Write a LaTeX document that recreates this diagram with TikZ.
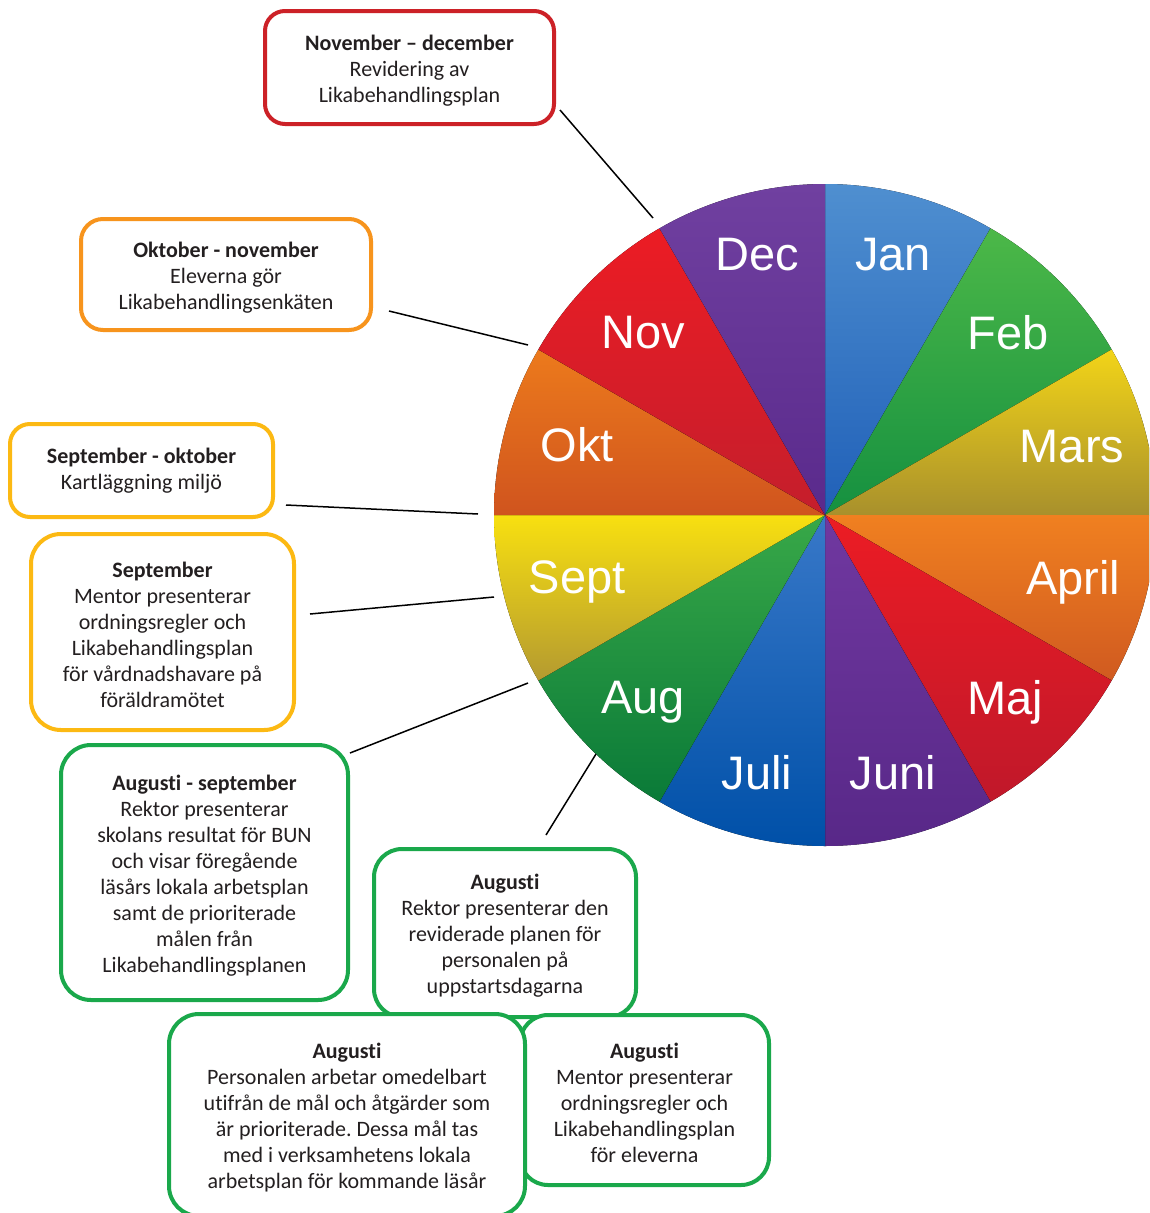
\documentclass[tikz,border=0pt]{standalone}
\usepackage{fontspec}
\setmainfont[Ligatures={NoCommon,TeX}]{Carlito}
\newfontfamily\monthfont{Liberation Sans}
\frenchspacing
\newcommand{\topfix}{\rule{0pt}{21pt}}
\definecolor{bred}{RGB}{204,33,39}
\definecolor{borange}{RGB}{247,148,29}
\definecolor{byellow}{RGB}{252,185,19}
\definecolor{bgreen}{RGB}{26,168,75}
\definecolor{txt}{RGB}{35,31,32}
\definecolor{janT}{HTML}{4F8FD0}\definecolor{janB}{HTML}{2060B8}
\definecolor{febT}{HTML}{4CB848}\definecolor{febB}{HTML}{159040}
\definecolor{marT}{HTML}{F2D418}\definecolor{marB}{HTML}{A8902C}
\definecolor{aprT}{HTML}{F08020}\definecolor{aprB}{HTML}{D05A20}
\definecolor{majT}{HTML}{EC1C24}\definecolor{majB}{HTML}{C0182A}
\definecolor{junT}{HTML}{7038A0}\definecolor{junB}{HTML}{582888}
\definecolor{julT}{HTML}{3878C8}\definecolor{julB}{HTML}{0050A8}
\definecolor{augT}{HTML}{38A848}\definecolor{augB}{HTML}{0A7A38}
\definecolor{sepT}{HTML}{F8E010}\definecolor{sepB}{HTML}{B49A30}
\definecolor{oktT}{HTML}{EC7A1C}\definecolor{oktB}{HTML}{D0541E}
\definecolor{novT}{HTML}{EC1C24}\definecolor{novB}{HTML}{C41E2C}
\definecolor{decT}{HTML}{7040A0}\definecolor{decB}{HTML}{5A2A8C}
\begin{document}
\begin{tikzpicture}[x=1pt,y=-1pt,
  infobox/.style={draw, line width=4pt, fill=white, align=center, inner sep=0pt,
    text=txt, font=\fontsize{22}{26}\selectfont},
  monthlbl/.style={text=white, font=\monthfont\fontsize{47}{50}\selectfont, inner sep=0pt},
  conn/.style={draw=black, line width=1.5pt}]
\useasboundingbox (0,0) rectangle (1149,1213);
\clip (0,0) rectangle (1149,1213);
\fill[white] (0,0) rectangle (1149,1213);
% wheel
\coordinate (pie) at (825,515);
\foreach \i/\ct/\cb in {0/janT/janB,1/febT/febB,2/marT/marB,3/aprT/aprB,4/majT/majB,5/junT/junB,
  6/julT/julB,7/augT/augB,8/sepT/sepB,9/oktT/oktB,10/novT/novB,11/decT/decB}
{
  \fill[top color=\ct, bottom color=\cb] (pie) -- ++({30*\i-90}:331)
    arc[start angle={30*\i-90}, delta angle=30, radius=331] -- cycle;
}
\foreach \lab/\lx/\ly in {Jan/893/255,Feb/1008/333,Mars/1072/447,April/1073/582,Maj/1005/702,
  Juni/893/773,Juli/757/773,Aug/643/702,Sept/577/582,Okt/577/445,Nov/643/333,Dec/757/255}
{
  \node[monthlbl] (m\lab) at (\lx,\ly) {\lab};
}
% boxes
\node[infobox, draw=bred, minimum width=289, minimum height=113, rounded corners=20] (b1) at (409.5,67.5)
  {\topfix\textbf{November – december}\\Revidering av\\Likabehandlingsplan};
\node[infobox, draw=borange, minimum width=290, minimum height=111, rounded corners=22] (b2) at (226,274.5)
  {\topfix\textbf{Oktober - november}\\Eleverna gör\\Likabehandlingsenkäten};
\node[infobox, draw=byellow, minimum width=263, minimum height=93, rounded corners=20] (b3) at (141.5,470.5)
  {\textbf{September - oktober}\\Kartläggning miljö};
\node[infobox, draw=byellow, minimum width=263, minimum height=196, rounded corners=30] (b4) at (162.5,632)
  {\topfix\textbf{September}\\Mentor presenterar\\ordningsregler och\\Likabehandlingsplan\\för vårdnadshavare på\\föräldramötet};
\node[infobox, draw=bgreen, minimum width=287, minimum height=255, rounded corners=30] (b5) at (204.5,872.5)
  {\topfix\textbf{Augusti - september}\\Rektor presenterar\\skolans resultat för BUN\\och visar föregående\\läsårs lokala arbetsplan\\samt de prioriterade\\målen från\\Likabehandlingsplanen};
\node[infobox, draw=bgreen, minimum width=262, minimum height=168, rounded corners=28] (b6) at (505,933)
  {\topfix\textbf{Augusti}\\Rektor presenterar den\\reviderade planen för\\personalen på\\uppstartsdagarna};
\node[infobox, draw=bgreen, minimum width=249, minimum height=170, rounded corners=28] (b8) at (644.5,1100)
  {\topfix\textbf{Augusti}\\Mentor presenterar\\ordningsregler och\\Likabehandlingsplan\\för eleverna};
\node[infobox, draw=bgreen, minimum width=356, minimum height=202, rounded corners=30] (b7) at (347,1115)
  {\topfix\textbf{Augusti}\\Personalen arbetar omedelbart\\utifrån de mål och åtgärder som\\är prioriterade. Dessa mål tas\\med i verksamhetens lokala\\arbetsplan för kommande läsår};
% connector ends
\coordinate (l1s) at (560,110); \coordinate (l1e) at (653,218);
\coordinate (l2s) at (389,311); \coordinate (l2e) at (528,345);
\coordinate (l3s) at (286,505); \coordinate (l3e) at (478,514);
\coordinate (l4s) at (310,614); \coordinate (l4e) at (494,597);
\coordinate (l5s) at (350,753); \coordinate (l5e) at (528,683);
\coordinate (l6s) at (546,835); \coordinate (l6e) at (596,754);
\draw[conn] (l1s) -- (l1e);
\draw[conn] (l2s) -- (l2e);
\draw[conn] (l3s) -- (l3e);
\draw[conn] (l4s) -- (l4e);
\draw[conn] (l5s) -- (l5e);
\draw[conn] (l6s) -- (l6e);
\end{tikzpicture}
\end{document}
